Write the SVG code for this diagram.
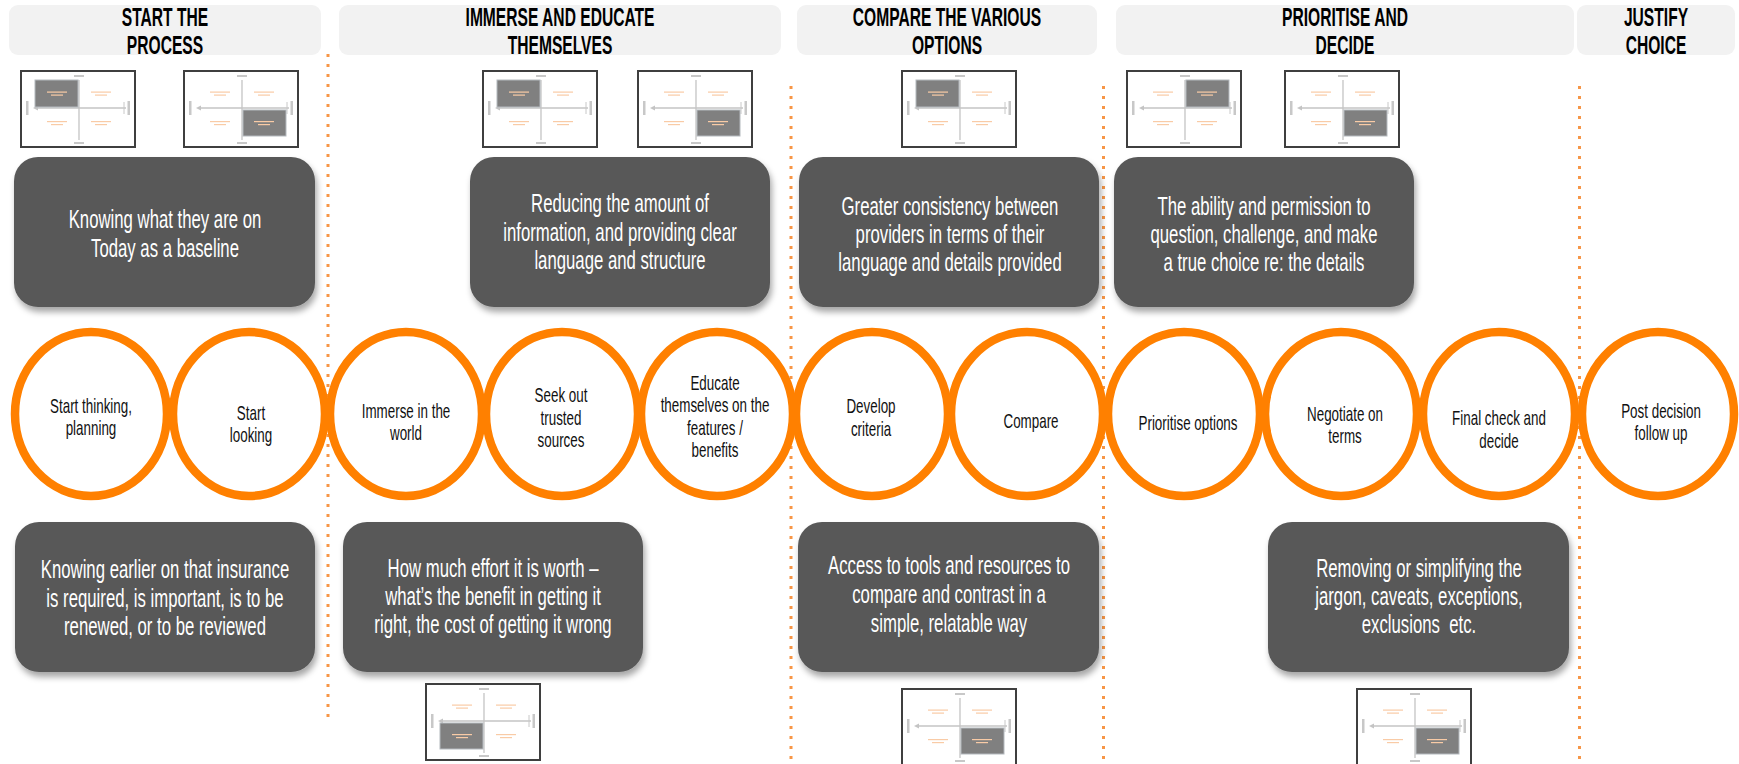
<svg xmlns="http://www.w3.org/2000/svg" xmlns:xlink="http://www.w3.org/1999/xlink" width="1739" height="764" viewBox="0 0 1739 764">
<style>
  .hdr { fill: #f2f2f2; }
  .hd { font-family: "Liberation Sans", Arial, sans-serif; font-weight: bold; font-size: 26px; fill: #000; text-anchor: middle; }
  .box { fill: #595959; }
  .bx { font-family: "Liberation Sans", Arial, sans-serif; font-size: 25px; fill: #ffffff; text-anchor: middle; }
  .cir { fill: #ffffff; stroke: #ff8000; stroke-width: 8.5; }
  .ct { font-family: "Liberation Sans", Arial, sans-serif; font-size: 20px; fill: #111111; text-anchor: middle; }
  .sep { stroke: #f79646; stroke-width: 3; stroke-dasharray: 3 7; fill: none; }
  .hl { fill: #808080; stroke: #b4b9be; stroke-width: 1; }
</style>
<defs>
  <filter id="sh" x="-10%" y="-10%" width="125%" height="135%">
    <feDropShadow dx="2" dy="5" stdDeviation="3" flood-color="#000" flood-opacity="0.35"/>
  </filter>
  <filter id="soft" filterUnits="userSpaceOnUse" x="-5" y="-5" width="130" height="90">
    <feGaussianBlur stdDeviation="0.6"/>
  </filter>
  <g id="tb">
    <rect x="1" y="1" width="114" height="76" fill="#ffffff" stroke="#3f3f3f" stroke-width="2"/>
    <g filter="url(#soft)">
      <line x1="59" y1="10" x2="59" y2="70" stroke="#c4c4c4" stroke-width="1.3"/>
      <line x1="16" y1="38" x2="106" y2="38" stroke="#c4c4c4" stroke-width="1.3"/>
      <path d="M13 38 l5 -2.5 v5 z" fill="#c4c4c4"/>
      <rect x="54" y="5" width="10" height="2" fill="#c8c8c8"/>
      <rect x="54" y="72" width="10" height="2" fill="#c8c8c8"/>
      <rect x="6" y="31" width="2.5" height="14" fill="#c8c8c8"/>
      <rect x="107.5" y="31" width="2.5" height="14" fill="#c8c8c8"/>
      <line x1="104" y1="32" x2="104" y2="44" stroke="#c8c8c8" stroke-width="1"/>
    </g>
  </g>
  <g id="tm" filter="url(#soft)" fill="#f9cba6">
    <rect x="27" y="21.5" width="20" height="1.2"/><rect x="31" y="24.5" width="12" height="1.2"/>
    <rect x="71" y="21.5" width="20" height="1.2"/><rect x="75" y="24.5" width="12" height="1.2"/>
    <rect x="27" y="51" width="20" height="1.2"/><rect x="31" y="54" width="12" height="1.2"/>
    <rect x="71" y="51" width="20" height="1.2"/><rect x="75" y="54" width="12" height="1.2"/>
  </g>
</defs>

<rect x="0" y="0" width="1739" height="764" fill="#ffffff"/>

<!-- stage headers -->
<g id="header-start">
  <rect class="hdr" x="9" y="5" width="312" height="50" rx="9"/>
  <text class="hd" transform="translate(165 0) scale(0.6 1)"><tspan x="0" y="26">START THE</tspan><tspan x="0" y="54">PROCESS</tspan></text>
</g>
<g id="header-immerse">
  <rect class="hdr" x="339" y="5" width="442" height="50" rx="9"/>
  <text class="hd" transform="translate(560 0) scale(0.6 1)"><tspan x="0" y="26">IMMERSE AND EDUCATE</tspan><tspan x="0" y="54">THEMSELVES</tspan></text>
</g>
<g id="header-compare">
  <rect class="hdr" x="797" y="5" width="300" height="50" rx="9"/>
  <text class="hd" transform="translate(947 0) scale(0.6 1)"><tspan x="0" y="26">COMPARE THE VARIOUS</tspan><tspan x="0" y="54">OPTIONS</tspan></text>
</g>
<g id="header-prioritise">
  <rect class="hdr" x="1116" y="5" width="458" height="50" rx="9"/>
  <text class="hd" transform="translate(1345 0) scale(0.6 1)"><tspan x="0" y="26">PRIORITISE AND</tspan><tspan x="0" y="54">DECIDE</tspan></text>
</g>
<g id="header-justify">
  <rect class="hdr" x="1577" y="5" width="158" height="50" rx="9"/>
  <text class="hd" transform="translate(1656 0) scale(0.6 1)"><tspan x="0" y="26">JUSTIFY</tspan><tspan x="0" y="54">CHOICE</tspan></text>
</g>

<!-- dotted stage separators -->
<g id="connectors">
  <line class="sep" x1="328" y1="54" x2="328" y2="722"/>
  <line class="sep" x1="791" y1="86" x2="791" y2="764"/>
  <line class="sep" x1="1103.5" y1="86" x2="1103.5" y2="764"/>
  <line class="sep" x1="1579.5" y1="86" x2="1579.5" y2="764"/>
</g>

<!-- quadrant thumbnails -->
<g id="thumb-1" transform="translate(20 70)"><use xlink:href="#tb"/><rect class="hl" x="15" y="10" width="43" height="27"/><use xlink:href="#tm"/></g>
<g id="thumb-2" transform="translate(183 70)"><use xlink:href="#tb"/><rect class="hl" x="60" y="40" width="43" height="26"/><use xlink:href="#tm"/></g>
<g id="thumb-3" transform="translate(482 70)"><use xlink:href="#tb"/><rect class="hl" x="15" y="10" width="43" height="27"/><use xlink:href="#tm"/></g>
<g id="thumb-4" transform="translate(637 70)"><use xlink:href="#tb"/><rect class="hl" x="60" y="40" width="43" height="26"/><use xlink:href="#tm"/></g>
<g id="thumb-5" transform="translate(901 70)"><use xlink:href="#tb"/><rect class="hl" x="15" y="10" width="43" height="27"/><use xlink:href="#tm"/></g>
<g id="thumb-6" transform="translate(1126 70)"><use xlink:href="#tb"/><rect class="hl" x="60" y="10" width="43" height="27"/><use xlink:href="#tm"/></g>
<g id="thumb-7" transform="translate(1284 70)"><use xlink:href="#tb"/><rect class="hl" x="60" y="40" width="43" height="26"/><use xlink:href="#tm"/></g>
<g id="thumb-8" transform="translate(425 683)"><use xlink:href="#tb"/><rect class="hl" x="15" y="40" width="43" height="26"/><use xlink:href="#tm"/></g>
<g id="thumb-9" transform="translate(901 688)"><use xlink:href="#tb"/><rect class="hl" x="60" y="40" width="43" height="26"/><use xlink:href="#tm"/></g>
<g id="thumb-10" transform="translate(1356 688)"><use xlink:href="#tb"/><rect class="hl" x="60" y="40" width="43" height="26"/><use xlink:href="#tm"/></g>

<!-- upper need boxes -->
<g id="need-baseline">
  <rect class="box" x="14" y="157" width="301" height="150" rx="24" filter="url(#sh)"/>
  <text class="bx" transform="translate(165 0) scale(0.67 1)"><tspan x="0" y="228">Knowing what they are on</tspan><tspan x="0" y="257">Today as a baseline</tspan></text>
</g>
<g id="need-reduce">
  <rect class="box" x="470" y="157" width="300" height="150" rx="24" filter="url(#sh)"/>
  <text class="bx" transform="translate(620 0) scale(0.67 1)"><tspan x="0" y="212">Reducing the amount of</tspan><tspan x="0" y="241">information, and providing clear</tspan><tspan x="0" y="269">language and structure</tspan></text>
</g>
<g id="need-consistency">
  <rect class="box" x="799" y="157" width="300" height="150" rx="24" filter="url(#sh)"/>
  <text class="bx" transform="translate(950 0) scale(0.67 1)"><tspan x="0" y="215">Greater consistency between</tspan><tspan x="0" y="243">providers in terms of their</tspan><tspan x="0" y="271">language and details provided</tspan></text>
</g>
<g id="need-permission">
  <rect class="box" x="1114" y="157" width="300" height="150" rx="24" filter="url(#sh)"/>
  <text class="bx" transform="translate(1264 0) scale(0.67 1)"><tspan x="0" y="215">The ability and permission to</tspan><tspan x="0" y="243">question, challenge, and make</tspan><tspan x="0" y="271">a true choice re: the details</tspan></text>
</g>

<!-- journey steps -->
<g id="step-start-thinking">
  <ellipse class="cir" cx="91" cy="414" rx="76" ry="82"/>
  <text class="ct" transform="translate(91 0) scale(0.67 1)"><tspan x="0" y="413">Start thinking,</tspan><tspan x="0" y="435">planning</tspan></text>
</g>
<g id="step-start-looking">
  <ellipse class="cir" cx="249" cy="414" rx="76" ry="82"/>
  <text class="ct" transform="translate(251 0) scale(0.67 1)"><tspan x="0" y="420">Start</tspan><tspan x="0" y="442">looking</tspan></text>
</g>
<g id="step-immerse">
  <ellipse class="cir" cx="406" cy="414" rx="76" ry="82"/>
  <text class="ct" transform="translate(406 0) scale(0.67 1)"><tspan x="0" y="418">Immerse in the</tspan><tspan x="0" y="440">world</tspan></text>
</g>
<g id="step-seek">
  <ellipse class="cir" cx="562" cy="414" rx="76" ry="82"/>
  <text class="ct" transform="translate(561 0) scale(0.67 1)"><tspan x="0" y="402">Seek out</tspan><tspan x="0" y="425">trusted</tspan><tspan x="0" y="447">sources</tspan></text>
</g>
<g id="step-educate">
  <ellipse class="cir" cx="717" cy="414" rx="76" ry="82"/>
  <text class="ct" transform="translate(715 0) scale(0.67 1)"><tspan x="0" y="390">Educate</tspan><tspan x="0" y="412">themselves on the</tspan><tspan x="0" y="435">features /</tspan><tspan x="0" y="457">benefits</tspan></text>
</g>
<g id="step-develop">
  <ellipse class="cir" cx="872" cy="414" rx="76" ry="82"/>
  <text class="ct" transform="translate(871 0) scale(0.67 1)"><tspan x="0" y="413">Develop</tspan><tspan x="0" y="436">criteria</tspan></text>
</g>
<g id="step-compare">
  <ellipse class="cir" cx="1027" cy="414" rx="76" ry="82"/>
  <text class="ct" transform="translate(1031 0) scale(0.67 1)"><tspan x="0" y="428">Compare</tspan></text>
</g>
<g id="step-prioritise">
  <ellipse class="cir" cx="1184" cy="414" rx="76" ry="82"/>
  <text class="ct" transform="translate(1188 0) scale(0.67 1)"><tspan x="0" y="430">Prioritise options</tspan></text>
</g>
<g id="step-negotiate">
  <ellipse class="cir" cx="1341" cy="414" rx="76" ry="82"/>
  <text class="ct" transform="translate(1345 0) scale(0.67 1)"><tspan x="0" y="421">Negotiate on</tspan><tspan x="0" y="443">terms</tspan></text>
</g>
<g id="step-final-check">
  <ellipse class="cir" cx="1499" cy="414" rx="76" ry="82"/>
  <text class="ct" transform="translate(1499 0) scale(0.67 1)"><tspan x="0" y="425">Final check and</tspan><tspan x="0" y="448">decide</tspan></text>
</g>
<g id="step-post-decision">
  <ellipse class="cir" cx="1658" cy="414" rx="76" ry="82"/>
  <text class="ct" transform="translate(1661 0) scale(0.67 1)"><tspan x="0" y="418">Post decision</tspan><tspan x="0" y="440">follow up</tspan></text>
</g>

<!-- lower need boxes -->
<g id="need-earlier">
  <rect class="box" x="15" y="522" width="300" height="150" rx="24" filter="url(#sh)"/>
  <text class="bx" transform="translate(165 0) scale(0.67 1)"><tspan x="0" y="578">Knowing earlier on that insurance</tspan><tspan x="0" y="607">is required, is important, is to be</tspan><tspan x="0" y="635">renewed, or to be reviewed</tspan></text>
</g>
<g id="need-effort">
  <rect class="box" x="343" y="522" width="300" height="150" rx="24" filter="url(#sh)"/>
  <text class="bx" transform="translate(493 0) scale(0.67 1)"><tspan x="0" y="577">How much effort it is worth –</tspan><tspan x="0" y="605">what’s the benefit in getting it</tspan><tspan x="0" y="633">right, the cost of getting it wrong</tspan></text>
</g>
<g id="need-tools">
  <rect class="box" x="798" y="522" width="301" height="150" rx="24" filter="url(#sh)"/>
  <text class="bx" transform="translate(949 0) scale(0.67 1)"><tspan x="0" y="574">Access to tools and resources to</tspan><tspan x="0" y="603">compare and contrast in a</tspan><tspan x="0" y="632">simple, relatable way</tspan></text>
</g>
<g id="need-jargon">
  <rect class="box" x="1268" y="522" width="301" height="150" rx="24" filter="url(#sh)"/>
  <text class="bx" transform="translate(1419 0) scale(0.67 1)"><tspan x="0" y="577">Removing or simplifying the</tspan><tspan x="0" y="605">jargon, caveats, exceptions,</tspan><tspan x="0" y="633">exclusions&#160; etc.</tspan></text>
</g>
</svg>
